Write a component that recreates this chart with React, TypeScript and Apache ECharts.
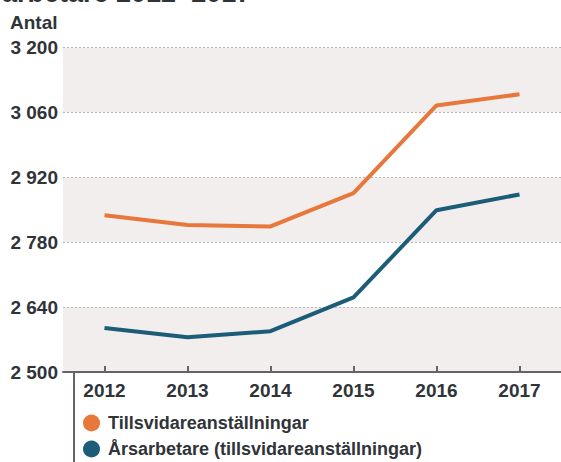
import React, { useEffect, useRef } from "react";
import * as echarts from "echarts";

const years = ["2012", "2013", "2014", "2015", "2016", "2017"];
const tillsvidare = [2838, 2817, 2814, 2886, 3075, 3099];
const arsarbetare = [2595, 2575, 2588, 2661, 2849, 2883];
const seriesNames = ["Tillsvidareanställningar", "Årsarbetare (tillsvidareanställningar)"];
const yMin = 2500;
const yMax = 3200;
const yStep = 140;

const FONT = "'Liberation Sans', Arial, Helvetica, sans-serif";
const TEXT = "#2f3438";
const AXIS = "#6b6363";

function fmt(v: number): string {
  const th = Math.floor(v / 1000);
  const rest = String(Math.round(v % 1000)).padStart(3, "0");
  return `${th} ${rest}`;
}

export default function App() {
  const ref = useRef<HTMLDivElement>(null);
  useEffect(() => {
    if (!ref.current) return;
    const chart = echarts.init(ref.current, null, { renderer: "svg" });
    chart.setOption({
      animation: false,
      backgroundColor: "#ffffff",
      grid: { left: 63, right: -13, top: 47.5, bottom: 90, containLabel: false },
      xAxis: {
        type: "category",
        data: years,
        boundaryGap: true,
        axisLine: { show: true, lineStyle: { color: AXIS, width: 2 } },
        axisTick: { show: true, alignWithLabel: true, inside: true, length: 6, lineStyle: { color: AXIS, width: 2 } },
        axisLabel: { color: TEXT, fontFamily: FONT, fontSize: 19, fontWeight: "bold", margin: 9 },
        splitLine: { show: false },
      },
      yAxis: {
        type: "value",
        min: yMin,
        max: yMax,
        interval: yStep,
        axisLine: { show: false },
        axisTick: { show: false },
        axisLabel: {
          color: TEXT,
          fontFamily: FONT,
          fontSize: 19,
          fontWeight: "bold",
          margin: 5,
          formatter: (v: number) => fmt(v),
        },
        splitLine: { show: true, lineStyle: { color: "#b8b4b4", type: [2, 2], width: 1 } },
        splitArea: { show: true, areaStyle: { color: ["#f3eeee", "#ffffff"] } },
      },
      legend: {
        orient: "vertical",
        left: 83,
        top: 414,
        height: 48,
        padding: 0,
        itemWidth: 17,
        itemHeight: 17,
        itemGap: 8,
        icon: "circle",
        data: seriesNames,
        textStyle: {
          color: TEXT,
          fontFamily: FONT,
          fontSize: 18,
          fontWeight: "bold",
          lineHeight: 17,
          padding: [0, 0, 0, 3],
        },
      },
      series: [
        {
          name: seriesNames[0],
          type: "line",
          data: tillsvidare,
          symbol: "none",
          color: "#e8773b",
          lineStyle: { width: 4, color: "#e8773b" },
        },
        {
          name: seriesNames[1],
          type: "line",
          data: arsarbetare,
          symbol: "none",
          color: "#1b5c78",
          lineStyle: { width: 4, color: "#1b5c78" },
        },
      ],
      graphic: [
        {
          type: "text",
          left: 10,
          top: 13,
          style: { text: "Antal", fill: TEXT, font: `bold 19px ${FONT}` },
        },
        {
          type: "text",
          x: 2,
          y: -7,
          style: {
            text: "arbetare 2012–2017",
            fill: TEXT,
            font: `bold 27px ${FONT}`,
            verticalAlign: "middle",
            align: "left",
          },
        },
        {
          type: "line",
          shape: { x1: 74, y1: 297, x2: 74, y2: 462 },
          style: { stroke: AXIS, lineWidth: 2 },
        },
      ],
    });
    return () => chart.dispose();
  }, []);
  return (
    <div
      ref={ref}
      style={{ position: "fixed", left: 0, top: 0, width: 561, height: 462, background: "#fff" }}
    />
  );
}
